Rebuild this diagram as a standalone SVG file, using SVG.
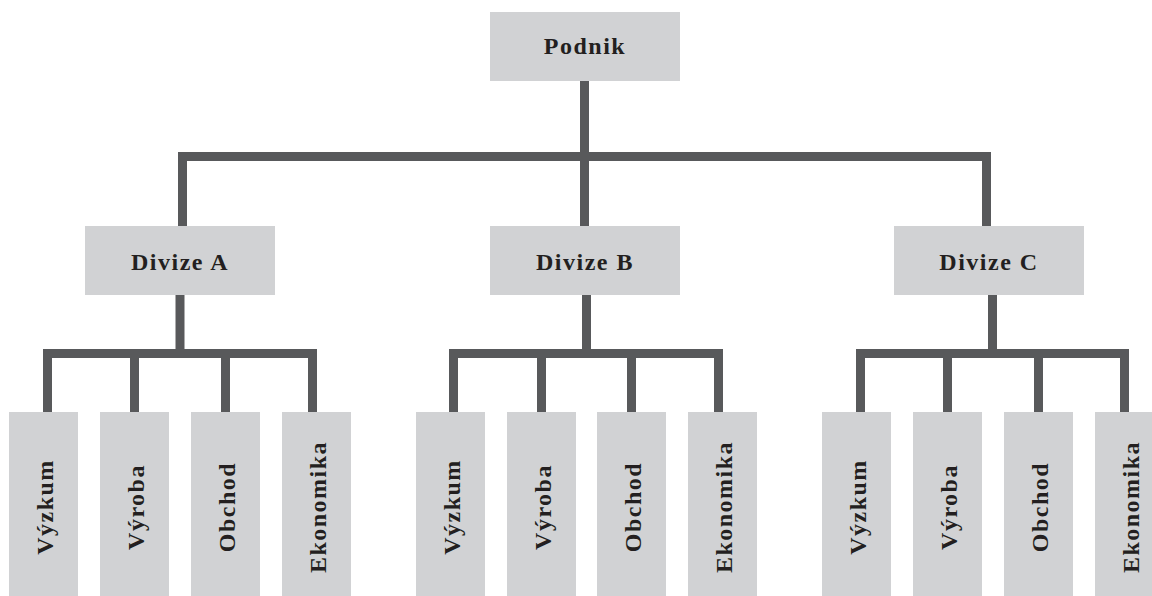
<svg xmlns="http://www.w3.org/2000/svg" width="1152" height="596" viewBox="0 0 1152 596">
<style>
.box{fill:#d1d2d4}
.lbl{font-family:"Liberation Serif","Times New Roman",serif;font-weight:bold;font-size:24px;fill:#231f20;text-anchor:middle;letter-spacing:1.5px}
.ln{fill:none;stroke:#58595b;stroke-width:9;stroke-linejoin:miter;stroke-linecap:butt}
</style>
<rect width="1152" height="596" fill="#ffffff"/>
<g id="connectors">
<path class="ln" d="M584.5 81 V152"/>
<path class="ln" d="M182.5 226 V156.5 H986.5 V226"/>
<path class="ln" d="M584.5 161 V226"/>
<path class="ln" d="M180 295 V349"/>
<path class="ln" d="M47.5 412 V353.5 H312.5 V412 M134.5 358 V412 M225.5 358 V412"/>
<path class="ln" d="M586.5 295 V349"/>
<path class="ln" d="M453.5 412 V353.5 H718.5 V412 M541.5 358 V412 M631.5 358 V412"/>
<path class="ln" d="M992.5 295 V349"/>
<path class="ln" d="M860.5 412 V353.5 H1124.5 V412 M947.5 358 V412 M1038.5 358 V412"/>
</g>
<g id="podnik"><rect class="box" x="490" y="12" width="190" height="69"/><text class="lbl" x="585" y="54">Podnik</text></g>
<g id="divize-a"><rect class="box" x="85" y="226" width="190" height="69"/><text class="lbl" x="180" y="270">Divize A</text></g>
<g id="divize-b"><rect class="box" x="490" y="226" width="190" height="69"/><text class="lbl" x="585" y="270">Divize B</text></g>
<g id="divize-c"><rect class="box" x="894" y="226" width="190" height="69"/><text class="lbl" x="989" y="270">Divize C</text></g>
<g id="a-vyzkum"><rect class="box" x="9" y="412" width="69" height="190"/><text class="lbl" transform="translate(53 507) rotate(-90)">Výzkum</text></g>
<g id="a-vyroba"><rect class="box" x="100" y="412" width="69" height="190"/><text class="lbl" transform="translate(144 507) rotate(-90)">Výroba</text></g>
<g id="a-obchod"><rect class="box" x="191" y="412" width="69" height="190"/><text class="lbl" transform="translate(235 507) rotate(-90)">Obchod</text></g>
<g id="a-ekonomika"><rect class="box" x="282" y="412" width="69" height="190"/><text class="lbl" transform="translate(326 507) rotate(-90)">Ekonomika</text></g>
<g id="b-vyzkum"><rect class="box" x="416" y="412" width="69" height="190"/><text class="lbl" transform="translate(460 507) rotate(-90)">Výzkum</text></g>
<g id="b-vyroba"><rect class="box" x="507" y="412" width="69" height="190"/><text class="lbl" transform="translate(551 507) rotate(-90)">Výroba</text></g>
<g id="b-obchod"><rect class="box" x="597" y="412" width="69" height="190"/><text class="lbl" transform="translate(641 507) rotate(-90)">Obchod</text></g>
<g id="b-ekonomika"><rect class="box" x="688" y="412" width="69" height="190"/><text class="lbl" transform="translate(732 507) rotate(-90)">Ekonomika</text></g>
<g id="c-vyzkum"><rect class="box" x="822" y="412" width="69" height="190"/><text class="lbl" transform="translate(866 507) rotate(-90)">Výzkum</text></g>
<g id="c-vyroba"><rect class="box" x="913" y="412" width="69" height="190"/><text class="lbl" transform="translate(957 507) rotate(-90)">Výroba</text></g>
<g id="c-obchod"><rect class="box" x="1004" y="412" width="69" height="190"/><text class="lbl" transform="translate(1048 507) rotate(-90)">Obchod</text></g>
<g id="c-ekonomika"><rect class="box" x="1095" y="412" width="69" height="190"/><text class="lbl" transform="translate(1139 507) rotate(-90)">Ekonomika</text></g>
</svg>
